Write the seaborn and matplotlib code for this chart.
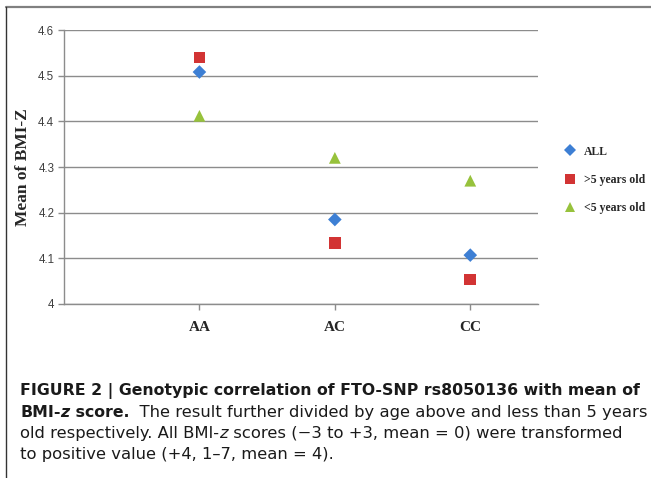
import pandas as pd
import numpy as np
import matplotlib
matplotlib.use("Agg")
import matplotlib.pyplot as plt
from matplotlib.lines import Line2D
import seaborn as sns

genotypes = ["AA", "AC", "CC"]
series = ["ALL", ">5 years old", "<5 years old"]
all_vals = [4.508, 4.185, 4.107]
over5_vals = [4.540, 4.134, 4.054]
under5_vals = [4.412, 4.320, 4.270]

colors = {"ALL": "#3d7fd4", ">5 years old": "#d23434", "<5 years old": "#97c23c"}
markers = {"ALL": "D", ">5 years old": "s", "<5 years old": "^"}

df = pd.DataFrame({
    "genotype": genotypes * 3,
    "series": [s for s in series for _ in genotypes],
    "value": all_vals + over5_vals + under5_vals,
})
df["pos"] = df["genotype"].map({g: i for i, g in enumerate(genotypes)})

sns.set_theme(style="white")
plt.rcParams["font.family"] = ["Liberation Sans", "DejaVu Sans"]

W, H = 651, 478
fig = plt.figure(figsize=(W / 100, H / 100), dpi=100)
ax = fig.add_axes([64 / W, 1 - 304 / H, (538 - 64) / W, (304 - 30) / H])

sizes = {"ALL": 48, ">5 years old": 70, "<5 years old": 72}
for s in series:
    sub = df[df["series"] == s]
    sns.scatterplot(data=sub, x="pos", y="value", color=colors[s], marker=markers[s],
                    s=sizes[s], edgecolor="none", linewidth=0, ax=ax, label=s, legend=False)

ax.set_xlim(-1, 2.5)
ax.set_ylim(4.0, 4.6)
ax.set_yticks(np.arange(4.0, 4.61, 0.1))
ax.set_yticklabels(["4", "4.1", "4.2", "4.3", "4.4", "4.5", "4.6"], color="#404040", fontsize=8.3)
ax.set_xticks(range(len(genotypes)))
ax.set_xticklabels(genotypes, family="Liberation Serif", fontweight="bold", fontsize=11)
ax.grid(axis="y", color="#8c8c8c", linewidth=1.0)
ax.set_axisbelow(True)
for side in ["top", "right"]:
    ax.spines[side].set_visible(False)
for side in ["left", "bottom"]:
    ax.spines[side].set_color("#8c8c8c")
    ax.spines[side].set_linewidth(1.0)
ax.tick_params(axis="both", which="both", length=4, color="#8c8c8c", width=1, direction="out",
               left=True, bottom=True, pad=3)
ax.tick_params(axis="x", pad=8)
ax.set_xlabel("")
ax.set_ylabel("Mean of BMI-Z", family="Liberation Serif", fontweight="bold", fontsize=12.5, labelpad=5)

handles = [Line2D([], [], linestyle="none", marker=markers[s], color=colors[s],
                  markersize=7 if s != "ALL" else 6, markeredgewidth=0) for s in series]
leg = fig.legend(handles, series, loc="upper left", bbox_to_anchor=(552 / W, 1 - 135 / H),
                 frameon=False, handletextpad=0.6, labelspacing=1.38, handlelength=1.2,
                 prop={"family": "Liberation Serif", "weight": "bold", "size": 8.5})

# frame lines
fig.add_artist(Line2D([6 / W, 1], [1 - 7 / H, 1 - 7 / H], color="#808080", linewidth=1.6))
fig.add_artist(Line2D([6 / W, 6 / W], [0, 1 - 7 / H], color="#333333", linewidth=1.0))

# caption drawn as runs of text
renderer = fig.canvas.get_renderer()


def draw_runs(x_px, y_px, runs):
    x = x_px
    for txt, weight, style in runs:
        size = 11.3 if weight == "bold" else 11.75
        t = fig.text(x / W, 1 - y_px / H, txt, fontsize=size, fontweight=weight,
                     fontstyle=style, color="#1a1a1a", va="baseline", ha="left",
                     family=["DejaVu Sans"])
        bb = t.get_window_extent(renderer=renderer)
        x = bb.x1


draw_runs(20, 395, [("FIGURE 2 | Genotypic correlation of FTO-SNP rs8050136 with mean of", "bold", "normal")])
draw_runs(20, 417, [("BMI-", "bold", "normal"), ("z", "bold", "italic"), (" score.", "bold", "normal"),
                    ("  The result further divided by age above and less than 5 years", "normal", "normal")])
draw_runs(20, 438, [("old respectively. All BMI-", "normal", "normal"), ("z", "normal", "italic"),
                    (" scores (\u22123 to +3, mean = 0) were transformed", "normal", "normal")])
draw_runs(20, 459, [("to positive value (+4, 1\u20137, mean = 4).", "normal", "normal")])

fig.savefig("out.png", dpi=100)
